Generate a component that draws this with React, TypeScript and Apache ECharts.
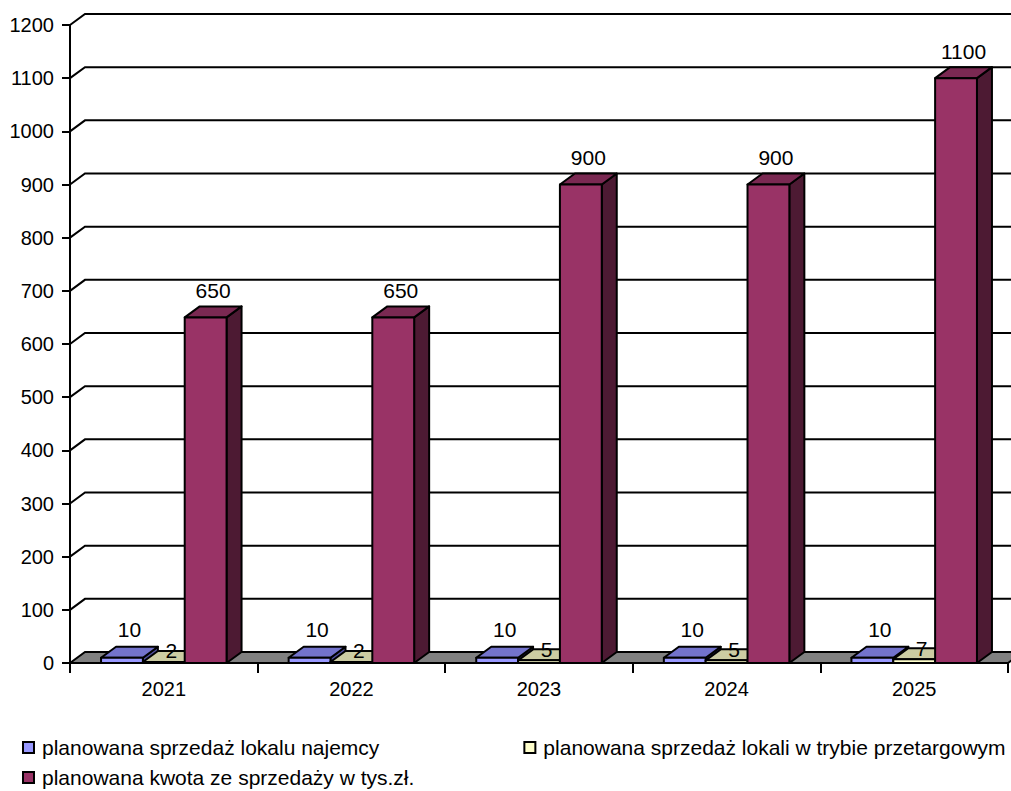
import React, { useEffect, useRef } from "react";
import * as echarts from "echarts";

// Years on the category axis
const years = ["2021", "2022", "2023", "2024", "2025"];

// Series names and values
const nameTenants = "planowana sprzedaż lokalu najemcy";
const nameTender = "planowana sprzedaż lokali w trybie przetargowym";
const nameAmount = "planowana kwota ze sprzedaży w tys.zł.";

const tenantSales = [10, 10, 10, 10, 10];
const tenderSales = [2, 2, 5, 5, 7];
const saleAmount = [650, 650, 900, 900, 1100];

// Value-axis ticks (back-wall grid lines)
const yTicks = [0, 100, 200, 300, 400, 500, 600, 700, 800, 900, 1000, 1100, 1200];

// 3D depth offset of the wall and the columns
const DX = 15;
const DY = 11;

const FONT = "'Liberation Sans', Arial, sans-serif";

type Shade = { front: string; top: string; side: string };

const shades: Shade[] = [
  { front: "#9999ff", top: "#7373cc", side: "#4d4d99" },
  { front: "#ffffcc", top: "#cccca3", side: "#99997a" },
  { front: "#993366", top: "#7a2952", side: "#4d1a33" },
];

// vertical gap between the column's back top edge and its value label
const labelGap = [17, 0, 16];

function wallRenderItem(params: any, api: any) {
  const v = api.value(1);
  const p = api.coord([0, v]);
  const cw = api.size([1, 0])[0];
  const left = p[0] - cw / 2;
  const right = left + cw * years.length;
  const y = p[1];
  const children: any[] = [];
  if (v === 0) {
    children.push({
      type: "polygon",
      shape: {
        points: [
          [left, y],
          [left + DX, y - DY],
          [right + DX, y - DY],
          [right, y],
        ],
      },
      style: { fill: "#808080", stroke: "#000", lineWidth: 2 },
    });
  } else {
    children.push({
      type: "polyline",
      shape: {
        points: [
          [left, y],
          [left + DX, y - DY],
          [right + DX + 20, y - DY],
        ],
      },
      style: { fill: null, stroke: "#000", lineWidth: 2 },
    });
  }
  return { type: "group", children };
}

function makeBarRenderer(k: number) {
  const sh = shades[k];
  return function (params: any, api: any) {
    const i = api.value(0);
    const v = api.value(1);
    const p0 = api.coord([i, 0]);
    const p1 = api.coord([i, v]);
    const cw = api.size([1, 0])[0];
    const w = cw * 0.223;
    const cx = p0[0] + (k - 1) * w;
    const x0 = cx - w / 2;
    const x1 = cx + w / 2;
    const yb = p0[1];
    const yt = p1[1];
    const stroke = { stroke: "#000", lineWidth: 2, lineJoin: "round" };
    return {
      type: "group",
      children: [
        {
          type: "polygon",
          shape: {
            points: [
              [x1, yt],
              [x1 + DX, yt - DY],
              [x1 + DX, yb - DY],
              [x1, yb],
            ],
          },
          style: { fill: sh.side, ...stroke },
        },
        {
          type: "polygon",
          shape: {
            points: [
              [x0, yt],
              [x0 + DX, yt - DY],
              [x1 + DX, yt - DY],
              [x1, yt],
            ],
          },
          style: { fill: sh.top, ...stroke },
        },
        {
          type: "rect",
          shape: { x: x0, y: yt, width: w, height: yb - yt },
          style: { fill: sh.front, ...stroke },
        },
        {
          type: "text",
          x: cx + DX / 2,
          y: yt - DY - labelGap[k],
          style: {
            text: String(v),
            fill: "#000",
            font: `21px ${FONT}`,
            align: "center",
            verticalAlign: "middle",
          },
        },
      ],
    };
  };
}

export default function App() {
  const ref = useRef<HTMLDivElement>(null);

  useEffect(() => {
    if (!ref.current) return;
    const chart = echarts.init(ref.current, null, { renderer: "svg" });

    const barSeries = [
      { name: nameTenants, values: tenantSales },
      { name: nameTender, values: tenderSales },
      { name: nameAmount, values: saleAmount },
    ].map((s, k) => ({
      type: "custom",
      name: s.name,
      z: 3 + k,
      clip: false,
      renderItem: makeBarRenderer(k),
      itemStyle: { color: shades[k].front, borderColor: "#000", borderWidth: 1.5 },
      encode: { x: 0, y: 1 },
      data: s.values.map((v, i) => [i, v]),
    }));

    const legendText = {
      color: "#000",
      fontSize: 21,
      fontFamily: FONT,
      padding: [0, 0, 0, 3],
    };

    chart.setOption({
      animation: false,
      backgroundColor: "#fff",
      textStyle: { fontFamily: FONT },
      grid: { left: 70, right: 3, top: 25, bottom: 128, containLabel: false },
      xAxis: {
        type: "category",
        data: years,
        boundaryGap: true,
        axisLine: { show: true, lineStyle: { color: "#000", width: 2 } },
        axisTick: { show: true, length: 10, lineStyle: { color: "#000", width: 2 } },
        axisLabel: { color: "#000", fontSize: 20, fontFamily: FONT, margin: 16 },
        splitLine: { show: false },
        z: 10,
      },
      yAxis: {
        type: "value",
        min: 0,
        max: 1200,
        interval: 100,
        axisLine: { show: true, lineStyle: { color: "#000", width: 2 } },
        axisTick: { show: true, length: 8, lineStyle: { color: "#000", width: 2 } },
        axisLabel: {
          color: "#000",
          fontSize: 20,
          fontFamily: FONT,
          margin: 16,
          formatter: (v: number) => String(v),
        },
        splitLine: { show: false },
        z: 10,
      },
      legend: [
        {
          data: [nameTenants, nameTender],
          left: 17,
          top: 732,
          itemWidth: 11,
          itemHeight: 11,
          itemGap: 144,
          icon: "rect",
          itemStyle: { borderColor: "#000", borderWidth: 2 },
          textStyle: legendText,
        },
        {
          data: [nameAmount],
          left: 17,
          top: 762,
          itemWidth: 11,
          itemHeight: 11,
          icon: "rect",
          itemStyle: { borderColor: "#000", borderWidth: 2 },
          textStyle: legendText,
        },
      ],
      series: [
        {
          type: "custom",
          name: "wall",
          z: 1,
          clip: false,
          silent: true,
          renderItem: wallRenderItem,
          encode: { x: 0, y: 1 },
          data: yTicks.map((v) => [0, v]),
        },
        ...barSeries,
      ],
    });

    return () => chart.dispose();
  }, []);

  return (
    <div
      ref={ref}
      style={{ position: "absolute", left: 0, top: 0, width: 1011, height: 791, background: "#fff" }}
    />
  );
}
